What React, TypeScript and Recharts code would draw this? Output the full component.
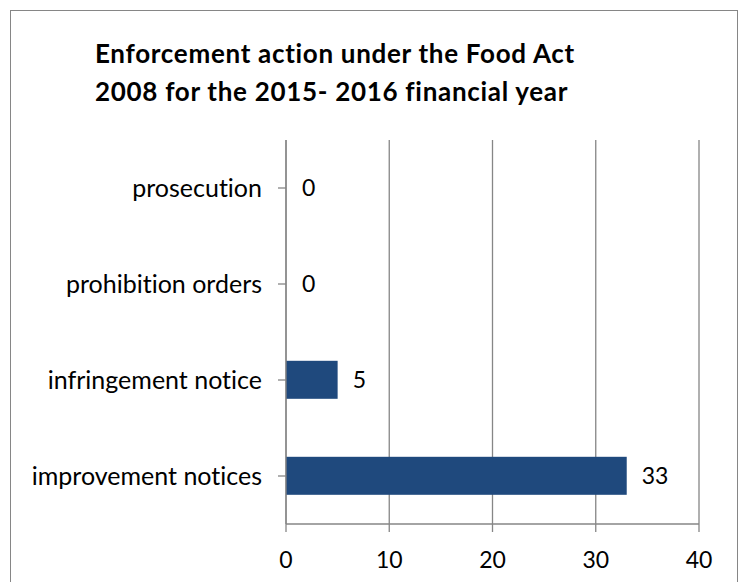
import React from 'react';
import { BarChart, Bar, XAxis, YAxis, CartesianGrid, LabelList } from 'recharts';

const categories = ['prosecution', 'prohibition orders', 'infringement notice', 'improvement notices'];
const counts = [0, 0, 5, 33];
const xTicks = [0, 10, 20, 30, 40];

const data = categories.map((name, i) => ({ name, value: counts[i] }));

const FONT = 'Lato, "Open Sans", sans-serif';
const AXIS = '#868686';
const BAR = '#1F497D';

// zero-value rows still need their "0" label, so bars get a min size
// and the shape just skips drawing anything for 0
const BarShape = (props: any) => {
    const { x, y, width, height, value } = props;
    if (!value) return null;
    return <rect x={x} y={y} width={width} height={height} fill={BAR} />;
};

export default function App() {
    return (
        <div style={{ position: 'absolute', left: 0, top: 0, width: 748, height: 582, background: '#fff', overflow: 'hidden', fontFamily: FONT, fontVariantLigatures: 'none' }}>
            <style>{'text { font-variant-ligatures: none; }'}</style>
            {/* outer frame */}
            <div style={{ position: 'absolute', left: 10, top: 10, width: 726, height: 600, border: `1px solid ${AXIS}` }} />
            {/* title */}
            <div style={{ position: 'absolute', left: 95, top: 34, fontSize: 26, fontWeight: 700, lineHeight: '38px', letterSpacing: '0.7px', color: '#000', whiteSpace: 'nowrap' }}>
                Enforcement action under the Food Act
                <br />
                2008 for the 2015- 2016 financial year
            </div>
            <div style={{ position: 'absolute', left: 0, top: 0 }}>
                <BarChart
                    width={748}
                    height={582}
                    layout="vertical"
                    data={data}
                    margin={{ top: 140, right: 49, bottom: 28, left: 10 }}
                    barCategoryGap="30%"
                >
                    <CartesianGrid horizontal={false} vertical stroke={AXIS} strokeWidth={1.3} />
                    <XAxis
                        type="number"
                        domain={[0, 40]}
                        ticks={xTicks}
                        interval={0}
                        height={30}
                        stroke={AXIS}
                        strokeWidth={1.3}
                        tickSize={8}
                        tickMargin={20}
                        tick={{ fill: '#000', fontSize: 23, fontFamily: FONT }}
                    />
                    <YAxis
                        type="category"
                        dataKey="name"
                        width={276}
                        stroke={AXIS}
                        strokeWidth={1.3}
                        tickSize={8}
                        tickMargin={16}
                        interval={0}
                        tick={{ fill: '#000', fontSize: 25, fontFamily: FONT }}
                    />
                    <Bar dataKey="value" fill={BAR} minPointSize={1} shape={BarShape} isAnimationActive={false}>
                        <LabelList dataKey="value" position="right" offset={15} fill="#000" fontSize={23} fontFamily={FONT} />
                    </Bar>
                </BarChart>
            </div>
        </div>
    );
}
